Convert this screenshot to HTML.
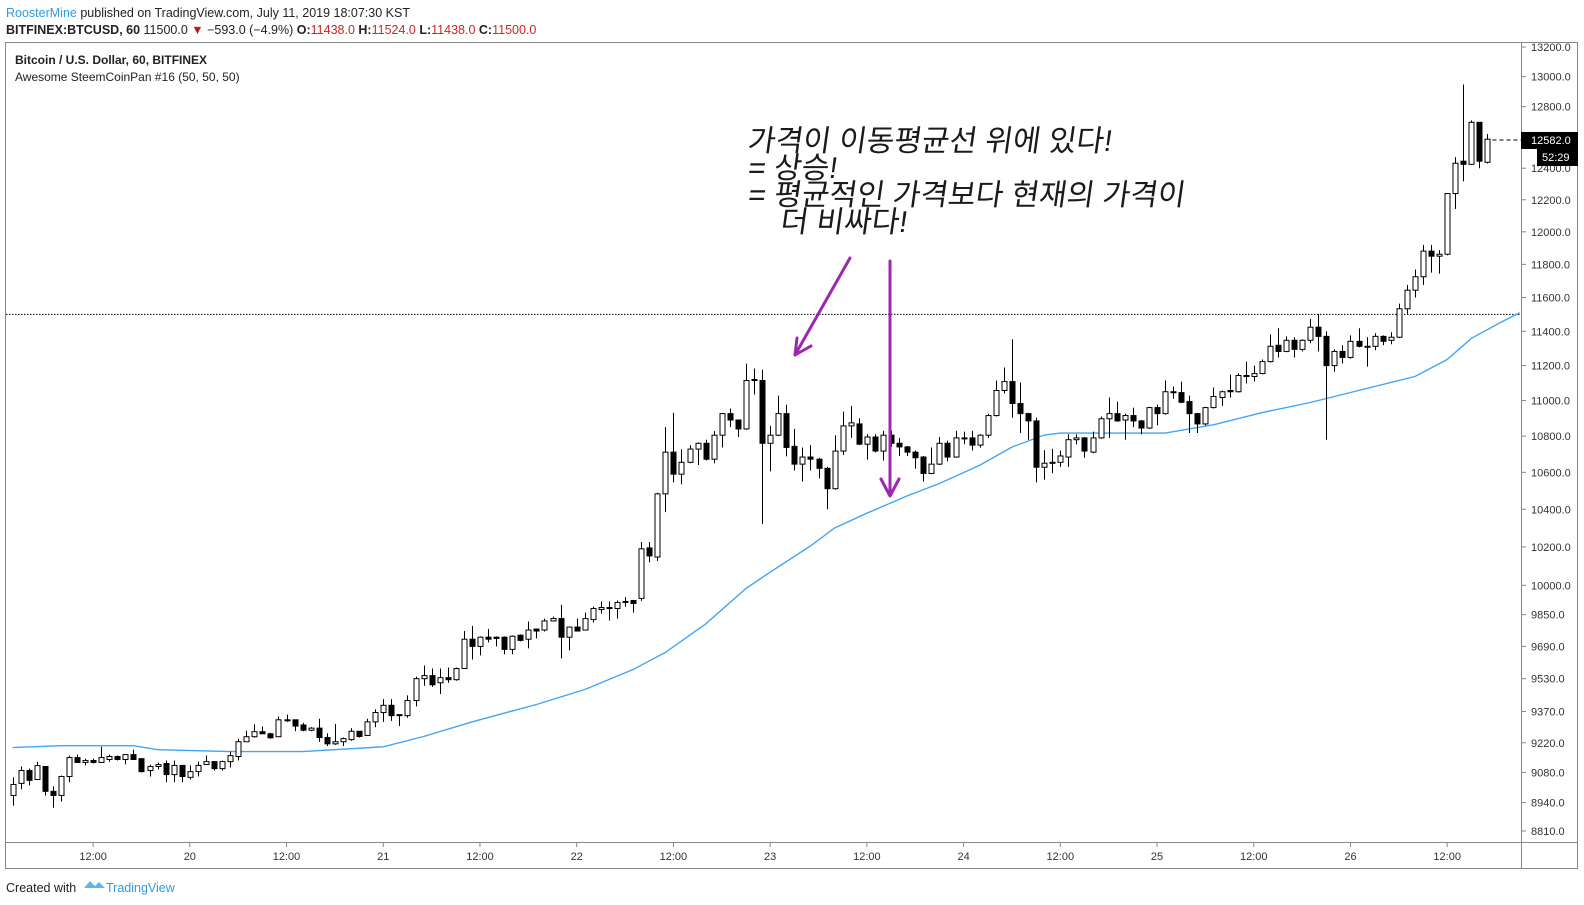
<!DOCTYPE html>
<html><head><meta charset="utf-8">
<style>
body{margin:0;background:#fff;width:1584px;height:905px;overflow:hidden;font-family:"Liberation Sans","Noto Sans CJK KR",sans-serif;}
svg{display:block}
</style></head>
<body>
<svg id="chart" width="1584" height="905" viewBox="0 0 1584 905" xmlns="http://www.w3.org/2000/svg">
<g font-family="Liberation Sans, sans-serif" font-size="12.5">
<text x="6" y="17"><tspan fill="#2e9be0">RoosterMine</tspan><tspan fill="#222"> published on TradingView.com, July 11, 2019 18:07:30 KST</tspan></text>
<text x="6" y="34" fill="#222"><tspan font-weight="bold">BITFINEX:BTCUSD, 60</tspan> 11500.0 <tspan fill="#b71c1c">▼</tspan> −593.0 (−4.9%) <tspan font-weight="bold">O:</tspan><tspan fill="#c62828">11438.0</tspan> <tspan font-weight="bold">H:</tspan><tspan fill="#c62828">11524.0</tspan> <tspan font-weight="bold">L:</tspan><tspan fill="#c62828">11438.0</tspan> <tspan font-weight="bold">C:</tspan><tspan fill="#c62828">11500.0</tspan></text>
</g>
<rect x="5.5" y="42.5" width="1572" height="826" fill="none" stroke="#888"/>
<line x1="1521.5" y1="42" x2="1521.5" y2="868" stroke="#888"/>
<line x1="5" y1="842.5" x2="1577" y2="842.5" stroke="#888"/>
<text x="15" y="64" font-size="12" font-weight="bold" fill="#222">Bitcoin / U.S. Dollar, 60, BITFINEX</text>
<text x="15" y="81" font-size="12" fill="#222">Awesome SteemCoinPan #16 (50, 50, 50)</text>
<g id="yaxis"></g>
<g id="xaxis"></g>
<g id="plot"></g>
<g font-family="Liberation Sans, Noto Sans CJK KR, sans-serif" font-size="30" fill="#1a1a1a">
<text x="748" y="151" transform="skewX(-8) translate(20,0)">가격이 이동평균선 위에 있다!</text>
<text x="748" y="178" transform="skewX(-8) translate(24,0)">= 상승!</text>
<text x="748" y="205" transform="skewX(-8) translate(28,0)">= 평균적인 가격보다 현재의 가격이</text>
<text x="780" y="232" transform="skewX(-8) translate(32,0)">더 비싸다!</text>
</g>
<g stroke="#9c27b0" stroke-width="3" fill="none" stroke-linecap="round">
<path d="M850 258 L795 355 M795 355 L797 338 M795 355 L811 346"/>
<path d="M890 261 L890 496 M890 496 L881 479 M890 496 L899 479"/>
</g>
<g>
<text x="6" y="892" font-size="12.5" fill="#222">Created with</text>
<path d="M84 888 l6 -7 l5 5 l4 -4 l6 6 z" fill="#5fb6ea"/>
<text x="106" y="892" font-size="12.5" fill="#2e9be0">TradingView</text>
</g>
</svg>
<script>
const opens=[8973,9029,9089,9047,9108,8992,8973,9061,9150,9127,9136,9127,9141,9155,9141,9164,9145,9089,9108,9122,9070,9113,9057,9084,9117,9131,9098,9131,9155,9225,9249,9273,9263,9249,9330,9330,9305,9280,9290,9245,9215,9225,9235,9275,9255,9320,9365,9400,9355,9350,9423,9530,9545,9510,9535,9525,9580,9726,9690,9736,9736,9736,9675,9746,9726,9777,9772,9818,9830,9736,9787,9772,9825,9876,9886,9881,9917,9922,9933,10195,10147,10483,10711,10590,10655,10728,10760,10672,10805,10926,10890,10840,11114,11114,10760,10805,10926,10743,10645,10684,10672,10622,10511,10717,10857,10868,10755,10795,10717,10805,10760,10740,10711,10684,10594,10645,10760,10684,10790,10790,10750,10805,10915,11057,11108,10983,10926,10885,10628,10650,10655,10684,10780,10790,10711,10790,10897,10926,10890,10915,10885,10845,10960,10926,11050,11045,10994,10926,10868,10960,11017,11057,11050,11143,11137,11154,11223,11318,11282,11347,11294,11347,11424,11370,11200,11282,11247,11341,11312,11312,11370,11347,11365,11533,11644,11725,11881,11850,11862,12239,12445,12425,12697,12438];
const highs=[9057,9108,9098,9130,9108,9015,9066,9159,9164,9145,9145,9201,9164,9160,9164,9187,9145,9117,9127,9136,9136,9113,9113,9131,9160,9131,9136,9178,9239,9278,9308,9298,9268,9345,9355,9330,9315,9295,9335,9265,9310,9245,9290,9275,9335,9380,9430,9430,9355,9448,9540,9595,9580,9580,9585,9585,9767,9793,9740,9777,9740,9740,9745,9750,9815,9780,9830,9840,9900,9790,9830,9860,9890,9917,9917,9922,9940,9925,10226,10226,10490,10850,10930,10728,10750,10765,10780,10828,10930,10955,10890,11211,11183,11177,10857,11028,10977,10840,10737,10750,10680,10630,10805,10937,10970,10900,10810,10810,10830,10830,10790,10745,10720,10690,10737,10795,10775,10830,10825,10830,10810,10925,11114,11189,11353,11103,10930,10903,10722,10730,10720,10810,10810,10795,10825,10910,11017,10994,10925,10960,10890,10965,10977,11114,11080,11108,11028,10930,10965,11074,11057,11148,11155,11223,11200,11235,11382,11418,11370,11365,11353,11473,11503,11400,11294,11318,11376,11418,11365,11388,11376,11394,11564,11675,11769,11919,11919,11887,12239,12471,12947,12710,12700,12620];
const lows=[8926,9001,9020,9047,8973,8917,8945,9034,9127,9113,9122,9127,9130,9136,9118,9141,9080,9061,9094,9034,9034,9034,9047,9061,9117,9089,9089,9103,9136,9225,9244,9263,9239,9249,9320,9275,9275,9275,9225,9205,9210,9205,9230,9245,9255,9295,9320,9325,9300,9340,9395,9495,9490,9455,9510,9520,9580,9625,9645,9710,9690,9650,9650,9715,9680,9730,9765,9815,9630,9670,9765,9770,9810,9855,9820,9830,9890,9860,9920,10120,10126,10385,10545,10535,10650,10640,10665,10650,10737,10850,10795,10835,11034,10321,10605,10800,10688,10610,10550,10610,10567,10400,10505,10695,10790,10750,10670,10710,10665,10740,10690,10690,10620,10550,10590,10640,10660,10680,10755,10720,10735,10790,10910,11040,10903,10817,10780,10545,10560,10595,10630,10630,10755,10680,10705,10785,10790,10880,10780,10850,10810,10840,10860,10920,11010,10985,10817,10817,10860,10955,10970,11017,11045,11097,11108,11150,11218,11247,11277,11247,11282,11330,11282,10780,11165,11212,11240,11306,11194,11290,11318,11324,11360,11497,11600,11675,11750,11744,11855,12142,12316,12420,12400,12430];
const closes=[9024,9089,9043,9112,8992,8973,9061,9150,9127,9136,9127,9150,9155,9141,9164,9141,9084,9108,9117,9070,9113,9061,9084,9113,9131,9098,9131,9159,9225,9249,9273,9263,9244,9330,9325,9300,9280,9290,9245,9215,9225,9240,9275,9250,9320,9365,9400,9350,9350,9423,9530,9545,9500,9535,9525,9580,9726,9690,9736,9726,9730,9675,9741,9720,9772,9767,9818,9830,9736,9787,9767,9830,9881,9886,9886,9912,9917,9907,10190,10153,10483,10711,10590,10655,10728,10760,10672,10805,10926,10890,10840,11114,11120,10760,10805,10926,10737,10645,10684,10672,10622,10511,10717,10857,10874,10755,10795,10717,10805,10760,10740,10711,10680,10594,10645,10760,10684,10790,10790,10750,10805,10915,11057,11108,10983,10926,10885,10628,10650,10655,10690,10780,10790,10717,10790,10897,10926,10885,10915,10885,10845,10960,10926,11050,11045,10990,10926,10868,10960,11023,11050,11050,11143,11137,11154,11223,11312,11282,11347,11294,11347,11424,11370,11200,11282,11247,11341,11312,11312,11370,11341,11365,11533,11644,11725,11881,11850,11862,12239,12432,12425,12697,12445,12587];
const maIdx=[0,6,15,18,27,36,46,51,57,65,71,77,81,86,91,94,99,102,106,111,115,120,124,128,130,134,143,149,155,161,165,174,178,181,185,187];
const maVal=[9197,9206,9206,9187,9178,9178,9201,9250,9320,9404,9477,9575,9660,9803,9984,10068,10205,10300,10379,10472,10539,10639,10739,10806,10817,10817,10817,10863,10931,10989,11034,11137,11235,11359,11461,11509];
const yTicks=[13200,13000,12800,12600,12400,12200,12000,11800,11600,11400,11200,11000,10800,10600,10400,10200,10000,9850,9690,9530,9370,9220,9080,8940,8810];
const xTickHours=[10,22,34,46,58,70,82,94,106,118,130,142,154,166,178];
const xTickLabels=["12:00","20","12:00","21","12:00","22","12:00","23","12:00","24","12:00","25","12:00","26","12:00"];
const lastPrice=12582, lastTimer="52:29", refLine=11500;

const NS="http://www.w3.org/2000/svg";
function y(p){return 47+1939*Math.log(13200/p);}
function x(i){return 12.5+i*8.06;}
function mk(tag,attrs,parent){const e=document.createElementNS(NS,tag);for(const k in attrs)e.setAttribute(k,attrs[k]);parent.appendChild(e);return e;}
const plot=document.getElementById('plot'),ya=document.getElementById('yaxis'),xa=document.getElementById('xaxis');

yTicks.forEach(p=>{
  const t=mk('line',{x1:1521,x2:1526,y1:y(p),y2:y(p),stroke:'#888'},ya);
  
  
  const l=mk('text',{x:1531,y:y(p)+4,'font-size':11,fill:'#333'},ya);
  
  
  l.textContent=p.toFixed(1);
});
xTickHours.forEach((h,k)=>{
  const t=mk('line',{x1:x(h),x2:x(h),y1:842,y2:847,stroke:'#888'},xa);
  
  
  const l=mk('text',{x:x(h),y:860,'font-size':11,fill:'#333','text-anchor':'middle'},xa);
  
  
  l.textContent=xTickLabels[k];
});
const rl=mk('line',{x1:6,x2:1521,y1:y(refLine),y2:y(refLine),stroke:'#000','stroke-dasharray':'1.5 1.5'},plot);


let d='';
maIdx.forEach((i,k)=>{d+=(k?'L':'M')+Math.min(x(i),1521).toFixed(1)+' '+y(maVal[k]).toFixed(1);});
const ma=mk('path',{d:d,fill:'none',stroke:'#42a5f5','stroke-width':1.4},plot);


for(let i=0;i<opens.length;i++){
  const cx=Math.round(x(i))+0.5, o=opens[i],c=closes[i],up=c>=o;
  const g=mk('g',{},plot);
  
  
  mk('line',{x1:cx,x2:cx,y1:y(highs[i]),y2:y(lows[i]),stroke:'#000'},g);
  const top=y(Math.max(o,c)),bot=y(Math.min(o,c));
  mk('rect',{x:cx-2.5,y:top,width:5,height:Math.max(bot-top,1),fill:up?'#fff':'#000',stroke:'#000','stroke-width':1},g);
}
const lx=x(opens.length-1)+5;
const dl=mk('line',{x1:lx,x2:1521,y1:y(lastPrice),y2:y(lastPrice),stroke:'#000','stroke-dasharray':'4 3'},plot);


const pb=mk('rect',{x:1521,y:y(lastPrice)-8,width:57,height:17,fill:'#000'},ya);


const pt=mk('text',{x:1531,y:y(lastPrice)+4,'font-size':11,fill:'#fff'},ya);


pt.textContent=lastPrice.toFixed(1);
const tb=mk('rect',{x:1537,y:y(lastPrice)+9,width:41,height:17,fill:'#000'},ya);


const tt=mk('text',{x:1542,y:y(lastPrice)+21,'font-size':11,fill:'#fff'},ya);


tt.textContent=lastTimer;
</script>
</body></html>
